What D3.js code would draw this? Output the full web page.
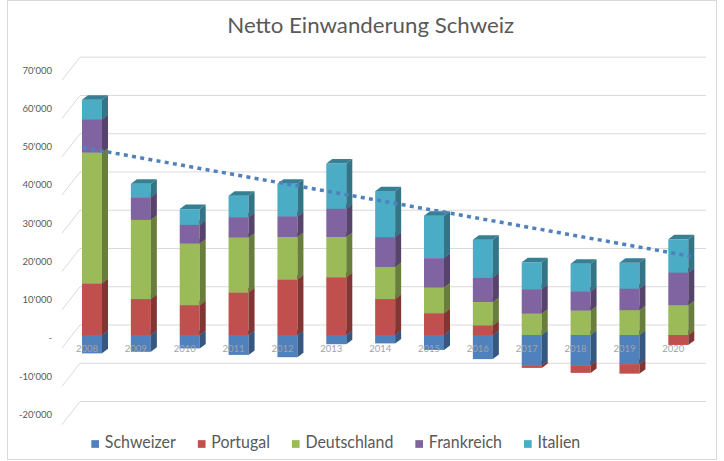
<!DOCTYPE html>
<html><head><meta charset="utf-8">
<script src="https://cdn.jsdelivr.net/npm/d3@7"></script>
<style>html,body{margin:0;padding:0;background:#fff;}svg{display:block;}</style>
</head><body>
<svg id="chart" width="724" height="461"></svg>
<script>
const years = ['2008','2009','2010','2011','2012','2013','2014','2015','2016','2017','2018','2019','2020'];
const seriesNames = ['Schweizer','Portugal','Deutschland','Frankreich','Italien'];
const schweizer   = [-4800,-4400,-3500,-5200,-5800,-2400,-2200,-3900,-6300,-7900,-7900,-7600,0];
const portugal    = [13500,9400,7800,11100,14500,15100,9400,5700,2500,-700,-2000,-2500,-2600];
const deutschland = [34200,20700,16100,14400,11100,10500,8400,6700,6100,5600,6400,6500,7800];
const frankreich  = [8700,5900,4900,5300,5400,7400,7800,7700,6400,6400,5000,5600,8500];
const italien     = [5100,3500,4100,5600,8500,11800,12000,11100,9900,7000,7200,6800,8700];
const trendValues = [49000, 20600]; // dotted trend line at first and last year
const yTicks = [-20000,-10000,0,10000,20000,30000,40000,50000,60000,70000];
const yTickLabels = ["-20'000","-10'000","-","10'000","20'000","30'000","40'000","50'000","60'000","70'000"];
const colors = ['#4F81BD','#C0504D','#9BBB59','#8064A2','#4BACC6'];
const title = 'Netto Einwanderung Schweiz';

const svg = d3.select('#chart');
const FONT = 'Lato, "Open Sans", sans-serif';

// border
svg.append('rect').attr('x',7.5).attr('y',0.5).attr('width',709).attr('height',459)
  .attr('fill','#fff').attr('stroke','#d9d9d9');

const table = years.map((y,i)=>({year:y,Schweizer:schweizer[i],Portugal:portugal[i],Deutschland:deutschland[i],Frankreich:frankreich[i],Italien:italien[i]}));

const x = d3.scalePoint().domain(years).range([92, 678.3]);
const y = d3.scaleLinear().domain([-20000, 70000]).range([335 + 2*38.26, 335 - 7*38.26]);
const backOff = -10;   // back wall offset
const dx = 6, dy = -4.5; // bar depth
const bw = 20;

// gridlines on back wall + side wall diagonals
const grid = svg.append('g');
yTicks.forEach((t,i)=>{
  const yb = y(t) + backOff;
  grid.append('line').attr('x1',80).attr('x2',706).attr('y1',yb).attr('y2',yb)
    .attr('stroke','#d9d9d9').attr('stroke-width',1);
  grid.append('line').attr('x1',62).attr('y1',yb+23).attr('x2',80).attr('y2',yb)
    .attr('stroke','#d9d9d9').attr('stroke-width',1);
  grid.append('text').attr('x',52).attr('y',yb+14).attr('text-anchor','end')
    .attr('dominant-baseline','middle').attr('font-family',FONT).attr('font-size',9.5)
    .attr('fill','#595959').text(yTickLabels[i]);
});

// stack
const stack = d3.stack().keys(seriesNames).offset(d3.stackOffsetDiverging);
const stacked = stack(table);
const bars = svg.append('g');
years.forEach((yr,j)=>{
  const segs = stacked.map((s,k)=>({k, d:s[j]})).filter(o=>o.d[1]-o.d[0] !== 0);
  segs.sort((a,b)=>a.d[1]-b.d[1]);
  const cx = x(yr);
  segs.forEach(o=>{
    const yt = y(o.d[1]), ybt = y(o.d[0]);
    const c = d3.color(colors[o.k]);
    const g = bars.append('g');
    g.append('rect').attr('x',cx-bw/2).attr('y',yt).attr('width',bw).attr('height',ybt-yt).attr('fill',colors[o.k]);
    g.append('path').attr('d',`M${cx+bw/2},${yt}L${cx+bw/2+dx},${yt+dy}L${cx+bw/2+dx},${ybt+dy}L${cx+bw/2},${ybt}Z`)
      .attr('fill',c.darker(1.1).formatHex());
    g.append('path').attr('d',`M${cx-bw/2},${yt}L${cx+bw/2},${yt}L${cx+bw/2+dx},${yt+dy}L${cx-bw/2+dx},${yt+dy}Z`)
      .attr('fill',c.darker(0.85).formatHex());
  });
});

// category labels
svg.append('g').selectAll('text').data(years).join('text')
  .attr('x',d=>x(d)-5).attr('y',350).attr('text-anchor','middle').attr('dominant-baseline','middle')
  .attr('font-family',FONT).attr('font-size',9.5).attr('fill','#a3a3a3').text(d=>d);

// trend line
svg.append('line')
  .attr('x1',x(years[0])-bw/2+1).attr('y1',y(trendValues[0]))
  .attr('x2',x(years[years.length-1])+bw/2+2).attr('y2',y(trendValues[1]))
  .attr('stroke','#4F81BD').attr('stroke-width',3.5).attr('stroke-dasharray','4 4.3');

// title
const tt = svg.append('text').attr('dominant-baseline','middle').attr('text-anchor','middle')
  .attr('font-family',FONT).attr('font-size',22).attr('fill','#595959').text(title);
const tw = tt.node().getComputedTextLength();
tt.attr('transform',`translate(370.7,27) scale(${287/tw},1)`);

// legend
const lg = svg.append('g');
const lfs = 17.5;
const probe = lg.append('text').attr('font-family',FONT).attr('font-size',lfs).text('Deutschland');
const sx = 88/probe.node().getComputedTextLength();
probe.remove();
const items = seriesNames.map((n,i)=>{
  const g = lg.append('g');
  g.append('rect').attr('width',7.7).attr('height',7.7).attr('y',-3.85).attr('fill',colors[i]);
  const t = g.append('text').attr('dominant-baseline','middle').attr('font-family',FONT)
    .attr('font-size',lfs).attr('fill','#595959').text(n)
    .attr('transform',`translate(13.5,0) scale(${sx},1)`);
  return {g, w: 13.5 + t.node().getComputedTextLength()*sx};
});
const gap = 22;
const total = d3.sum(items,d=>d.w) + gap*(items.length-1);
let cur = 335.8 - total/2;
items.forEach(it=>{ it.g.attr('transform',`translate(${cur},444)`); cur += it.w + gap; });
</script>
</body></html>
